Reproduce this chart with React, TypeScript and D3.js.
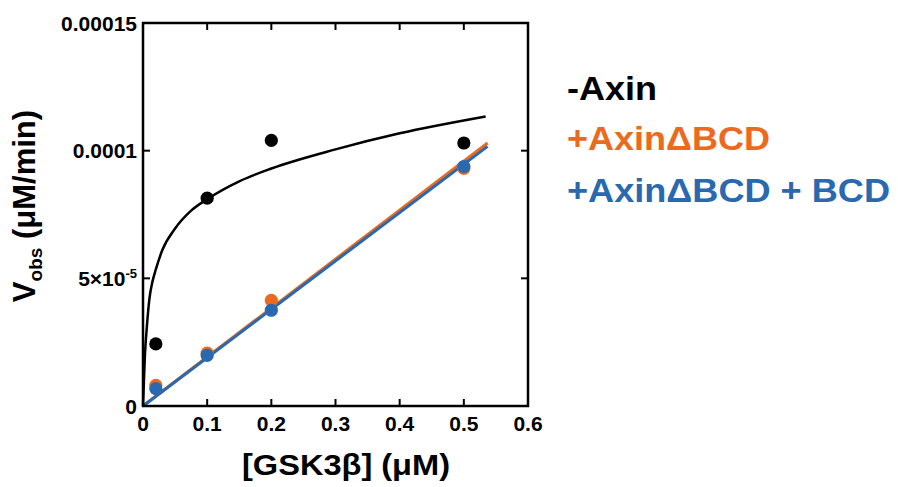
import React from "react";
import * as d3 from "d3";

// Data
const concGSK = [0.02, 0.1, 0.2, 0.5];
const vNoAxin = [2.43e-5, 8.14e-5, 1.04e-4, 1.03e-4];
const vDeltaBCD = [8.1e-6, 2.07e-5, 4.14e-5, 9.31e-5];
const vDeltaBCDplusBCD = [6.8e-6, 1.985e-5, 3.75e-5, 9.38e-5];

// fitted curve for -Axin
const fitX = [0, 0.003, 0.006, 0.01, 0.015, 0.02, 0.03, 0.05, 0.075, 0.1, 0.15, 0.2, 0.3, 0.4, 0.534];
const fitY = [0, 2.0e-5, 3.1e-5, 4.2e-5, 4.9e-5, 5.35e-5, 6.1e-5, 6.95e-5, 7.65e-5, 8.1e-5, 8.8e-5, 9.3e-5, 1.005e-4, 1.068e-4, 1.134e-4];

// linear fits (end points)
const lineX = [0, 0.537];
const lineDeltaBCD = [0, 1.03e-4];
const lineDeltaBCDplusBCD = [0, 1.017e-4];

const xTicks = [0, 0.1, 0.2, 0.3, 0.4, 0.5, 0.6];
const xTickLabels = ["0", "0.1", "0.2", "0.3", "0.4", "0.5", "0.6"];
const yTicks = [0, 5e-5, 1e-4, 1.5e-4];

const legendLabels = ["-Axin", "+AxinΔBCD", "+AxinΔBCD + BCD"];

const BLACK = "#000000";
const ORANGE = "#EC6A1E";
const BLUE = "#2A69AF";
const FONT = "'Liberation Sans', Arial, Helvetica, sans-serif";

export default function App() {
  const W = 898;
  const H = 487;
  const x = d3.scaleLinear().domain([0, 0.6]).range([143, 528]);
  const y = d3.scaleLinear().domain([0, 0.00015]).range([406, 23]);
  const [x0, x1] = x.range();
  const [y0, y1] = y.range();
  const tickLen = 7;

  const curve = d3
    .line<number>()
    .x((_, i) => x(fitX[i]))
    .y((d) => y(d))
    .curve(d3.curveMonotoneX)(fitY) as string;

  const lin = (vals: number[]) =>
    d3
      .line<number>()
      .x((_, i) => x(lineX[i]))
      .y((d) => y(d))(vals) as string;

  const yLabel = (v: number, i: number) => {
    const yy = y(v);
    const common = {
      x: 137,
      y: yy + 7.5,
      textAnchor: "end" as const,
      fontSize: 21,
      fontWeight: 700,
      fontFamily: FONT,
    };
    if (i === 1) {
      return (
        <text key={i} {...common}>
          5×10<tspan fontSize={13} dy={-8}>-5</tspan>
        </text>
      );
    }
    const s = i === 0 ? "0" : i === 2 ? "0.0001" : "0.00015";
    return (
      <text key={i} {...common}>
        {s}
      </text>
    );
  };

  const series = [
    { vals: vNoAxin, color: BLACK },
    { vals: vDeltaBCD, color: ORANGE },
    { vals: vDeltaBCDplusBCD, color: BLUE },
  ];

  const legendBaselines = [100, 150, 201.5];
  const legendWidths = [90, 203, 323];
  const legendColors = [BLACK, ORANGE, BLUE];

  return (
    <svg
      width={W}
      height={H}
      style={{ position: "absolute", left: 0, top: 0, background: "#fff" }}
    >
      <rect x={0} y={0} width={W} height={H} fill="#fff" />
      {/* lines */}
      <path d={lin(lineDeltaBCD)} stroke={ORANGE} strokeWidth={3} fill="none" />
      <path d={lin(lineDeltaBCDplusBCD)} stroke={BLUE} strokeWidth={3} fill="none" />
      <path d={curve} stroke={BLACK} strokeWidth={2.5} fill="none" />
      {/* points */}
      {series.map((s, si) =>
        s.vals.map((v, i) => (
          <circle key={`${si}-${i}`} cx={x(concGSK[i])} cy={y(v)} r={6.6} fill={s.color} />
        ))
      )}
      {/* frame */}
      <rect
        x={x0}
        y={y1}
        width={x1 - x0}
        height={y0 - y1}
        fill="none"
        stroke="#000"
        strokeWidth={2.5}
      />
      {/* ticks, all inward on four sides */}
      {xTicks.slice(1, -1).map((t) => (
        <g key={`xt${t}`}>
          <line x1={x(t)} x2={x(t)} y1={y0} y2={y0 - tickLen} stroke="#000" strokeWidth={2} />
          <line x1={x(t)} x2={x(t)} y1={y1} y2={y1 + tickLen} stroke="#000" strokeWidth={2} />
        </g>
      ))}
      {yTicks.slice(1, -1).map((t) => (
        <g key={`yt${t}`}>
          <line x1={x0} x2={x0 + tickLen} y1={y(t)} y2={y(t)} stroke="#000" strokeWidth={2} />
          <line x1={x1} x2={x1 - tickLen} y1={y(t)} y2={y(t)} stroke="#000" strokeWidth={2} />
        </g>
      ))}
      {/* x labels */}
      {xTicks.map((t, i) => (
        <text
          key={`xl${t}`}
          x={x(t)}
          y={430.5}
          textAnchor="middle"
          fontSize={21}
          fontWeight={700}
          fontFamily={FONT}
        >
          {xTickLabels[i]}
        </text>
      ))}
      {yTicks.map((t, i) => yLabel(t, i))}
      {/* axis titles */}
      <text
        x={346}
        y={475}
        textAnchor="middle"
        fontSize={29}
        fontWeight={700}
        fontFamily={FONT}
        textLength={208}
        lengthAdjust="spacingAndGlyphs"
      >
        [GSK3β] (μM)
      </text>
      <text
        transform="translate(35,206) rotate(-90)"
        textAnchor="middle"
        fontSize={31}
        fontWeight={700}
        fontFamily={FONT}
      >
        V<tspan fontSize={19} dy={7}>obs</tspan>
        <tspan dy={-7}> (μM/min)</tspan>
      </text>
      {/* legend */}
      {legendLabels.map((l, i) => (
        <text
          key={l}
          x={567}
          y={legendBaselines[i]}
          fontSize={33}
          fontWeight={700}
          fontFamily={FONT}
          fill={legendColors[i]}
          textLength={legendWidths[i]}
          lengthAdjust="spacingAndGlyphs"
        >
          {l}
        </text>
      ))}
    </svg>
  );
}
